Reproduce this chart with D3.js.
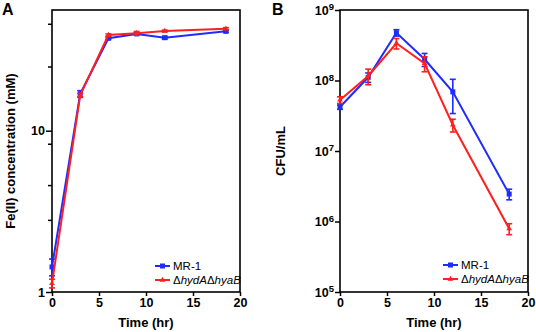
<!DOCTYPE html>
<html>
<head>
<meta charset="utf-8">
<script src="https://cdn.jsdelivr.net/npm/d3@7"></script>
<style>
  body { margin: 0; background: #fff; }
  text { font-family: "Liberation Sans", Arial, sans-serif; }
</style>
</head>
<body>
<svg id="chart" width="536" height="332"></svg>
<script>
var width = 536
var height = 332

// panel A: Fe(II) concentration (mM)
var feTime = [0, 3, 6, 9, 12, 18.5]
var feMR1 = [1.43, 16.9, 37.4, 39.8, 37.7, 41.3]
var feMR1Err = [0.17, 0.8, 0.6, 0.6, 0.7, 0.6]
var feMut = [1.13, 16.6, 39.2, 40.2, 41.5, 42.9]
var feMutErr = [0.07, 0.4, 0.6, 1.0, 0.5, 0.6]
var feMajorTicks = [1, 10]
var feMinorTicks = [2.8, 4.6, 8.3, 25, 46]

// panel B: CFU/mL
var cfuTime = [0, 3, 6, 9, 12, 18]
var cfuMR1 = [4.2e7, 1.11e8, 4.76e8, 2.0e8, 6.9e7, 2.45e6]
var cfuMR1Err = [0.3e7, 1.7e7, 0.5e8, 0.42e8, 3.5e7, 0.42e6]
var cfuMut = [5.3e7, 1.16e8, 3.37e8, 1.75e8, 2.34e7, 7.9e5]
var cfuMutErr = [0.57e7, 2.9e7, 0.57e8, 0.42e8, 0.48e7, 1.4e5]
var cfuExponents = [5, 6, 7, 8, 9]

var xTicks = [0, 5, 10, 15, 20]
var seriesNames = ["MR-1", "mut"]
var colors = { "MR-1": "#1f2bff", "mut": "#ff1f1f" }

var svg = d3.select("#chart")
svg.append("rect").attr("width", width).attr("height", height).attr("fill", "#fff")

function drawPanel(opt) {
    var g = svg.append("g")
    var xScale = d3.scaleLinear().domain([0, 20]).range([opt.left, opt.right])
    var yScale = d3.scaleLog().domain(opt.yDomain).range([292, 10])

    // x axis
    var xAxis = d3.axisBottom(xScale).tickValues(xTicks).tickSize(4).tickPadding(2)
    var xg = g.append("g").attr("transform", "translate(0,292)").call(xAxis)
    xg.select(".domain").remove()
    xg.selectAll("line").attr("stroke", "#000").attr("stroke-width", 1.5)
    xg.selectAll("text")
        .attr("font-size", "12.5px").attr("font-weight", "bold").attr("fill", "#000")

    // y axis
    var yAxis = d3.axisLeft(yScale).tickValues(opt.majorTicks).tickSize(opt.majorSize).tickPadding(1)
        .tickFormat(opt.format)
    var yg = g.append("g").attr("transform", "translate(" + opt.left + ",0)").call(yAxis)
    yg.select(".domain").remove()
    yg.selectAll("line").attr("stroke", "#000").attr("stroke-width", 1.5)
    yg.selectAll("text")
        .attr("font-size", "12.5px").attr("font-weight", "bold").attr("fill", "#000")
    if (opt.superscript) {
        yg.selectAll(".tick text").each(function (d) {
            var t = d3.select(this).text("")
            t.append("tspan").text("10")
            t.append("tspan").attr("dy", "-0.45em").attr("font-size", "9.5px")
                .text(Math.round(Math.log10(d)))
        })
    }
    if (opt.minorTicks) {
        var minorAxis = d3.axisLeft(yScale).tickValues(opt.minorTicks).tickSize(4).tickFormat("")
        var mg = g.append("g").attr("transform", "translate(" + opt.left + ",0)").call(minorAxis)
        mg.select(".domain").remove()
        mg.selectAll("line").attr("stroke", "#000").attr("stroke-width", 1.5)
    }

    // frame
    g.append("rect")
        .attr("x", opt.left).attr("y", 10)
        .attr("width", opt.right - opt.left).attr("height", 282)
        .attr("fill", "none").attr("stroke", "#000").attr("stroke-width", 1.6)

    // axis titles
    g.append("text")
        .attr("x", (opt.left + opt.right) / 2).attr("y", 327)
        .attr("text-anchor", "middle").attr("font-size", "13px").attr("font-weight", "bold")
        .text("Time (hr)")
    g.append("text")
        .attr("transform", "translate(" + opt.yTitleX + ",151) rotate(-90)")
        .attr("text-anchor", "middle").attr("font-size", "13px").attr("font-weight", "bold")
        .text(opt.yTitle)

    // panel letter
    g.append("text")
        .attr("x", opt.letterX).attr("y", 15)
        .attr("font-size", "16px").attr("font-weight", "bold")
        .text(opt.letter)

    // series
    var data = [
        { key: "MR-1", vals: opt.mr1, errs: opt.mr1Err },
        { key: "mut", vals: opt.mut, errs: opt.mutErr }
    ]
    var line = d3.line()
        .x(function (d) { return xScale(d.t) })
        .y(function (d) { return yScale(d.v) })

    data.forEach(function (s) {
        var pts = opt.time.map(function (t, i) { return { t: t, v: s.vals[i], e: s.errs[i] } })
        var c = colors[s.key]
        var sg = g.append("g")
        sg.append("path").datum(pts).attr("d", line)
            .attr("fill", "none").attr("stroke", c).attr("stroke-width", 2)
        // error bars
        var eb = sg.selectAll(".eb").data(pts).enter().append("g")
        eb.append("line")
            .attr("x1", function (d) { return xScale(d.t) }).attr("x2", function (d) { return xScale(d.t) })
            .attr("y1", function (d) { return yScale(d.v + d.e) }).attr("y2", function (d) { return yScale(d.v - d.e) })
            .attr("stroke", c).attr("stroke-width", 1.6)
        ;[1, -1].forEach(function (sign) {
            eb.append("line")
                .attr("x1", function (d) { return xScale(d.t) - 3 }).attr("x2", function (d) { return xScale(d.t) + 3 })
                .attr("y1", function (d) { return yScale(d.v + sign * d.e) })
                .attr("y2", function (d) { return yScale(d.v + sign * d.e) })
                .attr("stroke", c).attr("stroke-width", 1.6)
        })
        // markers
        if (s.key == "MR-1") {
            sg.selectAll(".mk").data(pts).enter().append("rect")
                .attr("x", function (d) { return xScale(d.t) - 2.5 })
                .attr("y", function (d) { return yScale(d.v) - 2.5 })
                .attr("width", 5).attr("height", 5).attr("fill", c)
        } else {
            sg.selectAll(".mk").data(pts).enter().append("path")
                .attr("transform", function (d) { return "translate(" + xScale(d.t) + "," + yScale(d.v) + ")" })
                .attr("d", d3.symbol().type(d3.symbolTriangle).size(14))
                .attr("fill", c)
        }
    })

    // legend
    var lg = g.append("g")
    seriesNames.forEach(function (k, i) {
        var y = opt.legendY + i * 14
        var c = colors[k]
        lg.append("line").attr("x1", opt.legendX).attr("x2", opt.legendX + 15)
            .attr("y1", y).attr("y2", y).attr("stroke", c).attr("stroke-width", 2)
        if (k == "MR-1") {
            lg.append("rect").attr("x", opt.legendX + 5).attr("y", y - 2.5)
                .attr("width", 5).attr("height", 5).attr("fill", c)
        } else {
            lg.append("path").attr("transform", "translate(" + (opt.legendX + 7.5) + "," + y + ")")
                .attr("d", d3.symbol().type(d3.symbolTriangle).size(14)).attr("fill", c)
        }
        var t = lg.append("text").attr("x", opt.legendX + 18).attr("y", y + 4)
            .attr("font-size", "11.5px").attr("fill", "#000")
        if (k == "MR-1") {
            t.text("MR-1")
        } else {
            t.append("tspan").text("\u0394")
            t.append("tspan").attr("font-style", "italic").text("hydA")
            t.append("tspan").text("\u0394")
            t.append("tspan").attr("font-style", "italic").text("hyaB")
        }
    })
}

drawPanel({
    left: 52, right: 240, yDomain: [1, 56],
    majorTicks: feMajorTicks, minorTicks: feMinorTicks, majorSize: 6,
    format: d3.format("d"), superscript: false,
    yTitle: "Fe(II) concentration (mM)", yTitleX: 15,
    letter: "A", letterX: 2,
    time: feTime, mr1: feMR1, mr1Err: feMR1Err, mut: feMut, mutErr: feMutErr,
    legendX: 155, legendY: 266
})

drawPanel({
    left: 340, right: 528, yDomain: [1e5, 1e9],
    majorTicks: cfuExponents.map(function (p) { return Math.pow(10, p) }), majorSize: 5,
    format: function (d) { return d }, superscript: true,
    yTitle: "CFU/mL", yTitleX: 285,
    letter: "B", letterX: 272,
    time: cfuTime, mr1: cfuMR1, mr1Err: cfuMR1Err, mut: cfuMut, mutErr: cfuMutErr,
    legendX: 443, legendY: 265
})
</script>
</body>
</html>
